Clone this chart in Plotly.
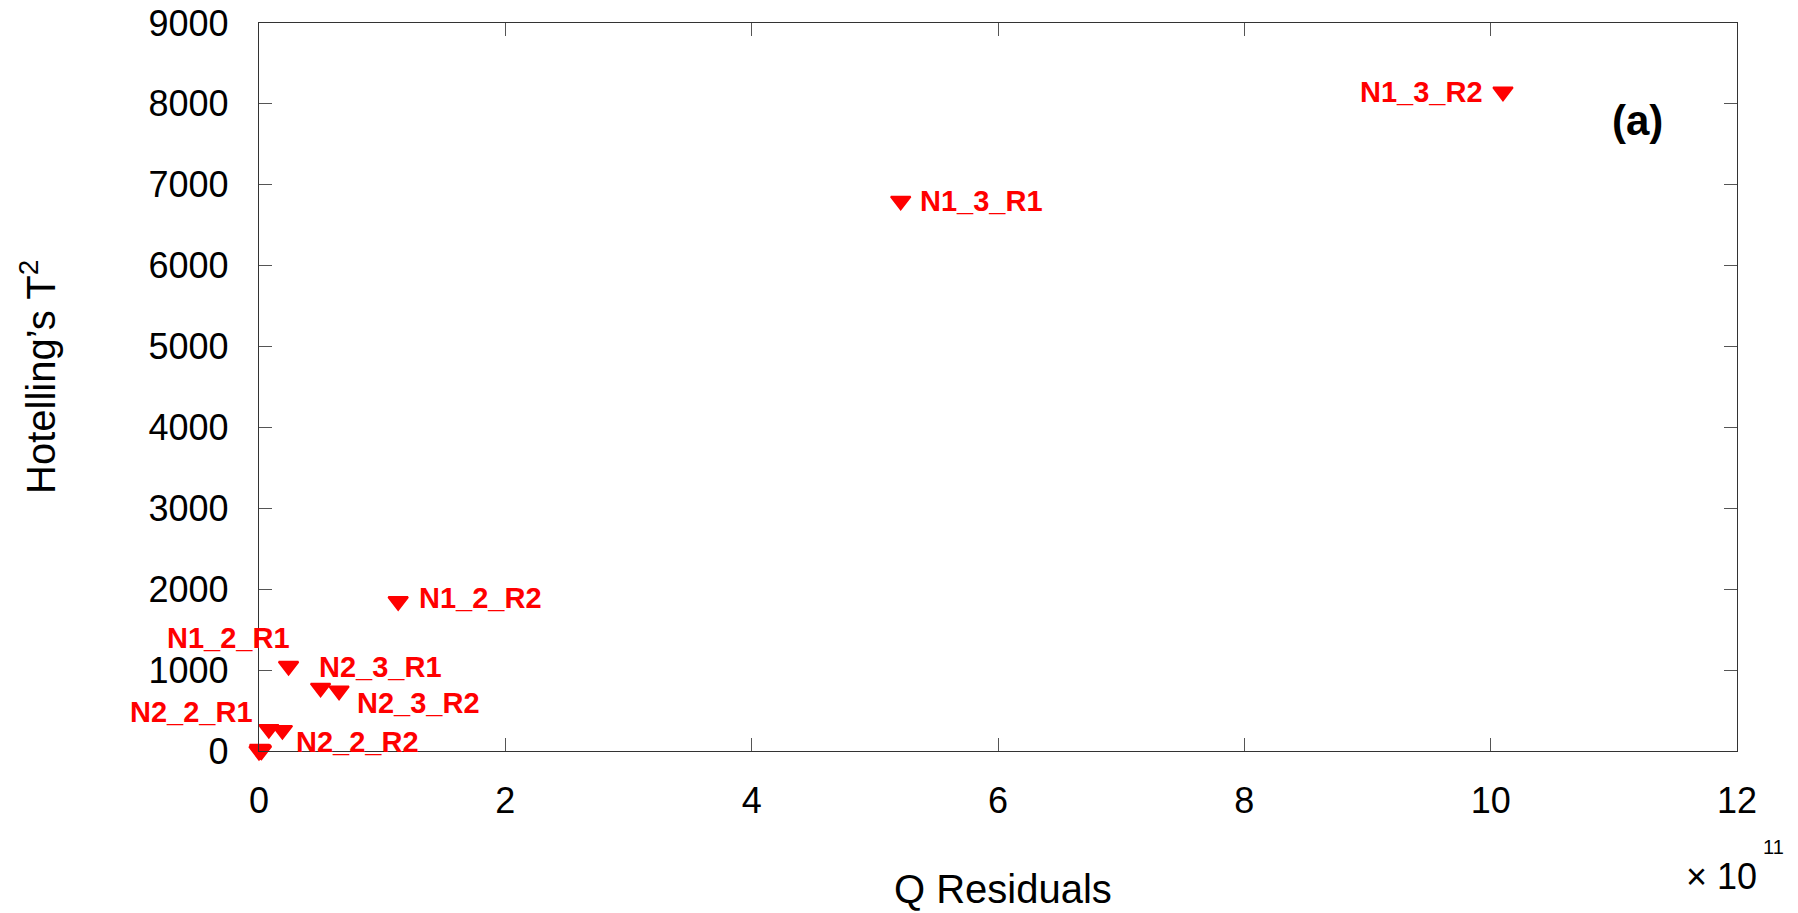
import plotly.graph_objects as go

# ---- data (Q residuals in units of 1e11) ----
sample_names = ["N1_3_R2", "N1_3_R1", "N1_2_R2", "N1_2_R1",
                "N2_3_R1", "N2_3_R2", "N2_2_R1", "N2_2_R2"]
q_residuals_e11 = [10.10, 5.21, 1.13, 0.24, 0.50, 0.65, 0.08, 0.19]
hotelling_t2 = [8150, 6800, 1850, 1050, 780, 745, 270, 258]

# unlabeled samples clustered at the origin
cluster_q_e11 = [0.00, 0.01, 0.02, 0.005, 0.015]
cluster_t2 = [0, 12, 5, 25, 18]

x_ticks = [0, 2, 4, 6, 8, 10, 12]
y_ticks = [0, 1000, 2000, 3000, 4000, 5000, 6000, 7000, 8000, 9000]

# ---- label placement (pixel offsets: anchor, dx, dy) ----
label_style = {
    "N1_3_R2": ("right", -18, 0),
    "N1_3_R1": ("left", 17, 0),
    "N1_2_R2": ("left", 19, 3),
    "N1_2_R1": ("right", 3, 28),
    "N2_3_R1": ("left", -4, 21),
    "N2_3_R2": ("left", 16, -12),
    "N2_2_R1": ("right", -14, 17),
    "N2_2_R2": ("left", 12, -12),
}

FONT = "Liberation Sans, Arial, sans-serif"
RED = "#ff0000"

fig = go.Figure()
marker = dict(symbol="triangle-down", size=17, color=RED,
              line=dict(color=RED, width=2))
fig.add_trace(go.Scatter(x=cluster_q_e11, y=cluster_t2, mode="markers",
                         marker=marker, cliponaxis=False, showlegend=False))
fig.add_trace(go.Scatter(x=q_residuals_e11, y=hotelling_t2, mode="markers",
                         marker=marker, cliponaxis=False, showlegend=False))

annotations = []
for name, xv, yv in zip(sample_names, q_residuals_e11, hotelling_t2):
    anchor, dx, dy = label_style[name]
    annotations.append(dict(x=xv, y=yv, xref="x", yref="y", text=f"<b>{name}</b>",
                            showarrow=False, xanchor=anchor, yanchor="middle",
                            xshift=dx, yshift=dy,
                            font=dict(family=FONT, size=29, color=RED)))

W, H = 1798, 913
L, R, T, B = 259, 1737, 23, 751

# free texts: (pixel x, pixel y, text, size, angle)
free_texts = [
    (1637, 121, "<b>(a)</b>", 42, 0),
    (1003, 889, "Q Residuals", 40, 0),
    (1721, 876, "× 10", 36, 0),
    (1773, 847, "11", 20, 0),
    (38, 377, "Hotelling’s T<sup>2</sup>", 40, -90),
]
for px, py, txt, s, ang in free_texts:
    annotations.append(dict(
        x=(px - L) / (R - L), y=(B - py) / (B - T), xref="paper", yref="paper",
        text=txt, showarrow=False, xanchor="center", yanchor="middle",
        textangle=ang, font=dict(family=FONT, size=s, color="black")))

axis_common = dict(showgrid=False, zeroline=False, showline=True, mirror="ticks",
                   linecolor="#333333", linewidth=1.3, ticks="inside", ticklen=13,
                   tickcolor="#555555", tickwidth=1.3,
                   tickfont=dict(family=FONT, size=36, color="black"))

fig.update_layout(
    width=W, height=H,
    margin=dict(l=L, r=W - R, t=T, b=H - B, autoexpand=False),
    paper_bgcolor="white", plot_bgcolor="white",
    xaxis=dict(range=[0, 12], tickvals=x_ticks, ticktext=[str(v) for v in x_ticks],
               ticklabelstandoff=18, **axis_common),
    yaxis=dict(range=[0, 9000], tickvals=y_ticks, ticktext=[str(v) for v in y_ticks],
               ticklabelstandoff=22, **axis_common),
    annotations=annotations,
)

fig.write_html("out.html")
